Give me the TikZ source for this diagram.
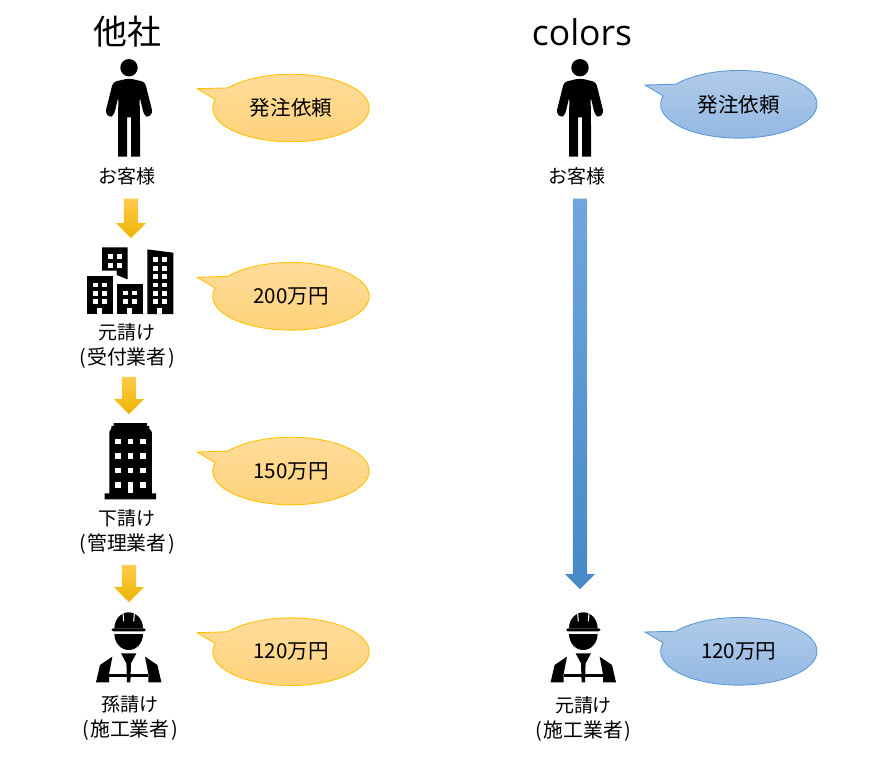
\documentclass[tikz,border=0pt]{standalone}
\usepackage{fontspec}
\setmainfont{Noto Sans CJK JP}
\newfontfamily\latinfont{Open Sans}
\usetikzlibrary{calc,shapes.callouts}
\definecolor{orangeline}{HTML}{FFC000}
\definecolor{blueline}{HTML}{5B9BD5}
\definecolor{orange1}{HTML}{FFDC9A}
\definecolor{orange2}{HTML}{FFD27A}
\definecolor{blue1}{HTML}{B1CBE9}
\definecolor{blue2}{HTML}{92B8E2}
\definecolor{arrowo1}{HTML}{FFCB4D}
\definecolor{arrowo2}{HTML}{EDB400}
\definecolor{arrowb1}{HTML}{6FA6DC}
\definecolor{arrowb2}{HTML}{4788C8}
\newcommand{\paren}[1]{{\fontsize{11.3}{14.2}\selectfont(\kern.8pt#1\kern.8pt)}}
\tikzset{
	lab/.style={inner sep=0pt,align=center,font=\fontsize{10.8}{14.2}\selectfont},
	ttl/.style={inner sep=0pt,font=\fontsize{19.3}{24}\selectfont},
	bubble/.style={ellipse callout,callout pointer arc=22,minimum width=89pt,minimum height=38.5pt,inner sep=0pt,
		line width=.5pt,font=\fontsize{11.7}{14}\selectfont},
	orangebubble/.style={bubble,draw=orangeline,top color=orange1,bottom color=orange2},
	bluebubble/.style={bubble,draw=blueline,top color=blue1,bottom color=blue2},
	blockarrow/.style={to path={($(\tikztostart)+(-7.2,0)$) -- ($(\tikztotarget)+(-7.2,-15)$) -- ($(\tikztotarget)+(-15,-15)$)
		-- (\tikztotarget) -- ($(\tikztotarget)+(15,-15)$) -- ($(\tikztotarget)+(7.2,-15)$) -- ($(\tikztostart)+(7.2,0)$) -- cycle}},
	orangearrow/.style={blockarrow,top color=arrowo1,middle color=orangeline,bottom color=arrowo2},
	bluearrow/.style={blockarrow,top color=arrowb1,bottom color=arrowb2},
	person/.pic={
		\fill (0,8.7) circle (8.7);
		\fill[rounded corners=2pt] (0,19.3) -- (16,23) -- (23.7,54) -- (19.3,58.7) -- (15,56) -- (10.6,37.7) -- (11,64)
			[sharp corners] -- (11,97.7) -- (2,97.7) -- (2,58.3) -- (-2,58.3) -- (-2,97.7) -- (-11,97.7) -- (-11,64)
			[rounded corners=2pt] -- (-10.6,37.7) -- (-15,56) -- (-19.3,58.7) -- (-23.7,54) -- (-16,23) -- cycle;
	},
	worker/.pic={
		\fill (-14.3,16) arc (180:360:14.3 and 16) -- cycle;
		\fill[rounded corners=1pt] (-17.3,16) rectangle (17.3,19);
		\draw[white,line width=.6pt] (-5.7,1) -- (-5,9) (5.7,1) -- (5,9);
		\fill (-14.3,21.7) arc (180:0:14.3 and 16) -- cycle;
		\fill (-32.7,70) -- (-28.7,52.7) -- (-16.3,44.3) -- (-19.7,62) -- (-19.7,70) -- cycle;
		\fill (32.7,70) -- (28.7,52.7) -- (16.3,44.3) -- (19.7,62) -- (19.7,70) -- cycle;
		\fill (-19.7,62) rectangle (19.7,65);
		\fill (-7.7,41) -- (7.7,41) -- (2.3,51) -- (1.7,70) -- (-1.7,70) -- (-2.3,51) -- cycle;
	},
	buildings/.pic={
		\fill (-28,.7) -- (-2.3,.7) -- (-2.3,32.7) -- (-13.3,28.3) -- (-13.3,24) -- (-28,24) -- cycle;
		\fill (-43.3,29) rectangle (-16.7,67.3);
		\fill (-13,37.3) rectangle (13,67.3);
		\fill (17.3,2.7) -- (43.3,6) -- (43.3,67.3) -- (17.3,67.3) -- cycle;
		\foreach \x in {-22.3,-13.3} \foreach \y in {7.3,16} \fill[white] (\x,\y) rectangle +(4.8,4.8);
		\foreach \x in {-37.3,-28.3} \foreach \y in {36,44.3,52.7} \fill[white] (\x,\y) rectangle +(4.8,4.6);
		\foreach \x in {-6.7,1.7} \foreach \y in {44,52.7} \fill[white] (\x,\y) rectangle +(4.8,4.6);
		\foreach \x in {23.3,32.3} \foreach \y in {10.7,19.3,27.7,36,44.3,52.7} \fill[white] (\x,\y) rectangle +(4.8,4.6);
		\foreach \x in {-32.7,-2.7,27.3} \fill[white] (\x,61.7) rectangle +(4.7,5.7);
	},
	tower/.pic={
		\fill (-16.7,0) -- (16.7,0) -- (16.7,3) -- (19,3) -- (19,5.5) -- (21.5,9) -- (21.5,70.3) -- (25.7,70.3) -- (25.7,76.3) -- (-25.7,76.3)
			-- (-25.7,70.3) -- (-21,70.3) -- (-21,9) -- (-19,5.5) -- (-19,3) -- (-16.7,3) -- cycle;
		\foreach \x in {-15.2,-2.7,10} \foreach \y in {16,30.3,44.7,59.3} \fill[white] (\x,\y) rectangle +(5.5,5.3);
		\fill[white] (-2.7,59.3) rectangle +(5.5,11);
	},
}
\begin{document}
\begin{tikzpicture}[x=.02cm,y=-.02cm]
	\useasboundingbox (0,0) rectangle (883,762);
	\node[ttl] (titleA) at (127,32) {他社};
	\node[ttl,font=\latinfont\fontsize{20.2}{24}\selectfont] (titleB) at (582,32) {colors};

	% left column
	\coordinate (iconA1) at (129,59);
	\coordinate (iconA2) at (130,246.7);
	\coordinate (iconA3) at (130.3,423);
	\coordinate (iconA4) at (128.7,612.3);
	\pic at (iconA1) {person};
	\pic at (iconA2) {buildings};
	\pic at (iconA3) {tower};
	\pic at (iconA4) {worker};
	\node[lab] (labA1) at (127,176) {お客様};
	\node[lab] (labA2) at (127,346) {元請け\\\paren{受付業者}};
	\node[lab] (labA3) at (127,531.5) {下請け\\\paren{管理業者}};
	\node[lab] (labA4) at (130,718) {孫請け\\\paren{施工業者}};
	\shade[orangearrow] ($(labA1.south)+(4,13.5)$) to ($(iconA2)+(1,-8.7)$);
	\shade[orangearrow] ($(labA2.south)+(2,8)$) to ($(iconA3)+(-1.3,-9)$);
	\shade[orangearrow] ($(labA3.south)+(2,10.5)$) to ($(iconA4)+(.3,-10.3)$);
	\node[orangebubble,callout absolute pointer={(197.3,88.7)}] (priceA1) at (291,108) {発注依頼};
	\node[orangebubble,callout absolute pointer={(197.3,277.3)}] (priceA2) at (291,296.3) {200万円};
	\node[orangebubble,callout absolute pointer={(197.3,452)}] (priceA3) at (291,471) {150万円};
	\node[orangebubble,callout absolute pointer={(197.3,632.7)}] (priceA4) at (291,651.7) {120万円};

	% right column
	\coordinate (iconB1) at (580,59);
	\coordinate (iconB2) at (583.3,612.3);
	\pic at (iconB1) {person};
	\pic at (iconB2) {worker};
	\node[lab] (labB1) at (576.7,176) {お客様};
	\node[lab] (labB2) at (583.5,719) {元請け\\\paren{施工業者}};
	\shade[bluearrow] ($(labB1.south)+(3.3,13.5)$) to ($(iconB2)+(-3.3,-23.3)$);
	\node[bluebubble,callout absolute pointer={(645,85)}] (priceB1) at (738.8,104.3) {発注依頼};
	\node[bluebubble,callout absolute pointer={(645,632)}] (priceB2) at (738.8,651.3) {120万円};
\end{tikzpicture}
\end{document}
